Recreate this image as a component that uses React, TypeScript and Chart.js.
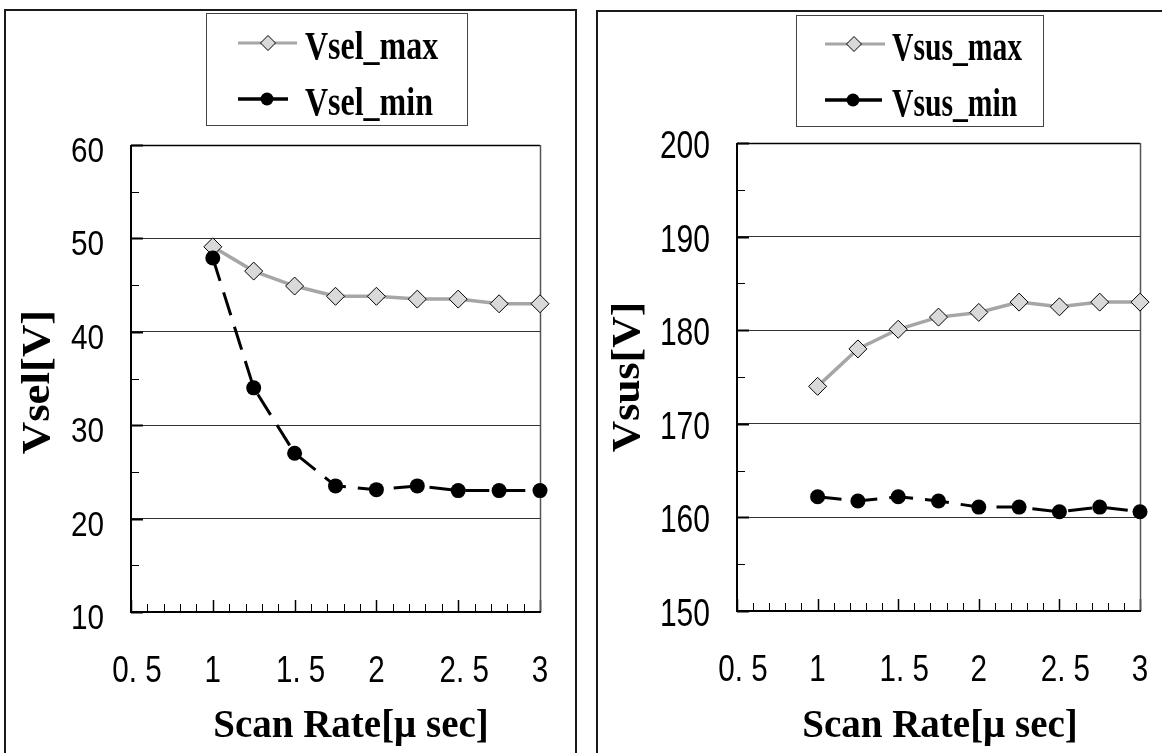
import React, { useEffect, useRef } from "react";
import { Chart, registerables } from "chart.js";

Chart.register(...registerables);

// ---------- data ----------
const scanRate = [1, 1.25, 1.5, 1.75, 2, 2.25, 2.5, 2.75, 3];
const vselMax = [49.1, 46.5, 44.9, 43.8, 43.8, 43.5, 43.5, 43.0, 43.0];
const vselMin = [47.9, 34.0, 27.0, 23.5, 23.1, 23.5, 23.0, 23.0, 23.0];
const vsusMax = [174.0, 178.0, 180.1, 181.4, 181.9, 183.0, 182.5, 183.0, 183.0];
const vsusMin = [162.2, 161.75, 162.2, 161.75, 161.1, 161.1, 160.6, 161.1, 160.6];

const xTickValues = [0.5, 1, 1.5, 2, 2.5, 3];
const xTickLabels = ["0. 5", "1", "1. 5", "2", "2. 5", "3"];
const vselTicks = [10, 20, 30, 40, 50, 60];
const vsusTicks = [150, 160, 170, 180, 190, 200];
const xTitle = "Scan Rate[μ sec]";

const SERIF = "'Liberation Serif', 'Times New Roman', serif";
const SANS = "'Liberation Sans', Arial, sans-serif";

type Row = { y: number; l1: number; l2: number; m: number; tx: number; base: number };
type Cfg = {
  frame: { left: number; top: number; width: number; height: number };
  canvas: { left: number; top: number; width: number; height: number };
  area: { left: number; right: number; top: number; bottom: number };
  yMin: number;
  yMax: number;
  yTicks: number[];
  yMinorStep: number;
  yLabelSize: number;
  yLabelScale: number;
  yLabelDrop: number;
  xLabelSize: number;
  xLabelScale: number;
  xLabelDrop: number;
  maxLabel: string;
  minLabel: string;
  maxData: number[];
  minData: number[];
  yTitle: string;
  yTitleX: number;
  yTitleY: number;
  yTitleScale: number;
  xTitleX: number;
  xTitleY: number;
  legendBox: number[];
  legendRows: Row[];
  legendScale: number;
};

const panels: Cfg[] = [
  {
    frame: { left: 4, top: 9, width: 573, height: 800 },
    canvas: { left: 6, top: 11, width: 569, height: 742 },
    area: { left: 131, right: 540, top: 145, bottom: 612 },
    yMin: 10,
    yMax: 60,
    yTicks: vselTicks,
    yMinorStep: 5,
    yLabelSize: 35,
    yLabelScale: 0.85,
    yLabelDrop: 17,
    xLabelSize: 37,
    xLabelScale: 0.8,
    xLabelDrop: 70,
    maxLabel: "Vsel_max",
    minLabel: "Vsel_min",
    maxData: vselMax,
    minData: vselMin,
    yTitle: "Vsel[V]",
    yTitleX: 49,
    yTitleY: 382,
    yTitleScale: 1.15,
    xTitleX: 351,
    xTitleY: 737,
    legendBox: [206, 13, 467, 125],
    legendRows: [
      { y: 43, l1: 238, l2: 297, m: 268, tx: 305, base: 59 },
      { y: 99, l1: 238, l2: 288, m: 267, tx: 305, base: 115 },
    ],
    legendScale: 0.82,
  },
  {
    frame: { left: 596, top: 10, width: 600, height: 800 },
    canvas: { left: 598, top: 12, width: 564, height: 741 },
    area: { left: 737, right: 1140, top: 143, bottom: 611 },
    yMin: 150,
    yMax: 200,
    yTicks: vsusTicks,
    yMinorStep: 5,
    yLabelSize: 39,
    yLabelScale: 0.77,
    yLabelDrop: 15,
    xLabelSize: 37,
    xLabelScale: 0.8,
    xLabelDrop: 70,
    maxLabel: "Vsus_max",
    minLabel: "Vsus_min",
    maxData: vsusMax,
    minData: vsusMin,
    yTitle: "Vsus[V]",
    yTitleX: 639,
    yTitleY: 377,
    yTitleScale: 1.12,
    xTitleX: 940,
    xTitleY: 737,
    legendBox: [796, 15, 1043, 126],
    legendRows: [
      { y: 44, l1: 825, l2: 885, m: 854, tx: 892, base: 60 },
      { y: 100, l1: 825, l2: 882, m: 853, tx: 892, base: 116 },
    ],
    legendScale: 0.76,
  },
];

function diamond(ctx: CanvasRenderingContext2D, cx: number, cy: number, r: number) {
  ctx.beginPath();
  ctx.moveTo(cx, cy - r);
  ctx.lineTo(cx + r, cy);
  ctx.lineTo(cx, cy + r);
  ctx.lineTo(cx - r, cy);
  ctx.closePath();
  ctx.fillStyle = "#d9d9d9";
  ctx.fill();
  ctx.lineWidth = 1;
  ctx.strokeStyle = "#000";
  ctx.stroke();
}

function seg(ctx: CanvasRenderingContext2D, x1: number, y1: number, x2: number, y2: number) {
  ctx.beginPath();
  ctx.moveTo(x1, y1);
  ctx.lineTo(x2, y2);
  ctx.stroke();
}

function squishText(
  ctx: CanvasRenderingContext2D,
  text: string,
  x: number,
  y: number,
  sx: number,
  align: CanvasTextAlign
) {
  ctx.save();
  ctx.translate(x, y);
  ctx.scale(sx, 1);
  ctx.textAlign = align;
  ctx.textBaseline = "alphabetic";
  ctx.fillText(text, 0, 0);
  ctx.restore();
}

const framePlugin = {
  id: "frame",
  beforeDatasetsDraw(chart: any, _args: any, opts: any) {
    const cfg: Cfg = opts.cfg;
    if (!cfg) return;
    const ctx: CanvasRenderingContext2D = chart.ctx;
    const { left, right, top, bottom } = chart.chartArea;
    const xs = chart.scales.x;
    const ys = chart.scales.y;
    ctx.save();
    // inward x ticks (major every 0.5, minor every 0.1)
    ctx.strokeStyle = "#000";
    for (let i = 5; i <= 30; i++) {
      const px = Math.round(xs.getPixelForValue(i / 10)) + 0.5;
      const major = i % 5 === 0;
      ctx.lineWidth = major ? 1.5 : 1;
      seg(ctx, px, bottom, px, bottom - (major ? 12 : 8));
    }
    // inward y ticks
    for (const v of cfg.yTicks) {
      const py = Math.round(ys.getPixelForValue(v)) + 0.5;
      ctx.lineWidth = 2;
      seg(ctx, left, py, left + 12, py);
      const mv = v + cfg.yMinorStep;
      if (mv < cfg.yMax) {
        const pm = Math.round(ys.getPixelForValue(mv)) + 0.5;
        ctx.lineWidth = 1;
        seg(ctx, left, pm, left + 8, pm);
      }
    }
    // frame
    ctx.lineWidth = 1.5;
    ctx.strokeStyle = "#000";
    seg(ctx, left, top + 0.5, right, top + 0.5);
    ctx.strokeStyle = "#555";
    seg(ctx, right + 0.5, top, right + 0.5, bottom);
    ctx.strokeStyle = "#000";
    ctx.lineWidth = 2;
    seg(ctx, left - 1, bottom, right + 1, bottom);
    seg(ctx, left, top, left, bottom + 1);
    ctx.restore();
  },
  afterDraw(chart: any, _args: any, opts: any) {
    const cfg: Cfg = opts.cfg;
    if (!cfg) return;
    const ctx: CanvasRenderingContext2D = chart.ctx;
    const ox = cfg.canvas.left;
    const oy = cfg.canvas.top;
    const xs = chart.scales.x;
    const ys = chart.scales.y;
    const { left, bottom } = chart.chartArea;
    ctx.save();
    ctx.fillStyle = "#000";
    // tick labels from the scales' own ticks
    ctx.font = `${cfg.yLabelSize}px ${SANS}`;
    for (const t of ys.ticks) {
      const py = ys.getPixelForValue(t.value);
      squishText(ctx, String(t.label), left - 27, py + cfg.yLabelDrop, cfg.yLabelScale, "right");
    }
    ctx.font = `${cfg.xLabelSize}px ${SANS}`;
    for (const t of xs.ticks) {
      const px = xs.getPixelForValue(t.value);
      const lab = String(t.label);
      const shift = lab.indexOf(".") >= 0 ? 6 : 0;
      squishText(ctx, lab, px + shift, bottom + cfg.xLabelDrop, cfg.xLabelScale, "center");
    }
    // legend box
    const [bx1, by1, bx2, by2] = cfg.legendBox;
    ctx.fillStyle = "#fff";
    ctx.fillRect(bx1 - ox, by1 - oy, bx2 - bx1, by2 - by1);
    ctx.strokeStyle = "#444";
    ctx.lineWidth = 1;
    ctx.strokeRect(bx1 - ox + 0.5, by1 - oy + 0.5, bx2 - bx1, by2 - by1);
    const ds = chart.data.datasets;
    cfg.legendRows.forEach((r, i) => {
      const y = r.y - oy;
      if (i === 0) {
        ctx.strokeStyle = "#a6a6a6";
        ctx.lineWidth = 3;
        seg(ctx, r.l1 - ox, y, r.l2 - ox, y);
        diamond(ctx, r.m - ox, y, 7.5);
      } else {
        ctx.strokeStyle = "#000";
        ctx.lineWidth = 3.5;
        seg(ctx, r.l1 - ox, y, r.l2 - ox, y);
        ctx.beginPath();
        ctx.arc(r.m - ox, y, 6.5, 0, Math.PI * 2);
        ctx.fillStyle = "#000";
        ctx.fill();
      }
      ctx.fillStyle = "#000";
      ctx.font = `bold 39px ${SERIF}`;
      squishText(ctx, ds[i].label, r.tx - ox, r.base - oy, cfg.legendScale, "left");
    });
    // axis titles
    ctx.fillStyle = "#000";
    ctx.font = `bold 39px ${SERIF}`;
    ctx.textAlign = "center";
    ctx.textBaseline = "alphabetic";
    ctx.fillText(xTitle, cfg.xTitleX - ox, cfg.xTitleY - oy);
    ctx.save();
    ctx.translate(cfg.yTitleX - ox, cfg.yTitleY - oy);
    ctx.rotate(-Math.PI / 2);
    ctx.scale(cfg.yTitleScale, 1);
    ctx.fillText(cfg.yTitle, 0, 0);
    ctx.restore();
    ctx.restore();
  },
};

function Panel({ cfg }: { cfg: Cfg }) {
  const ref = useRef<HTMLCanvasElement | null>(null);
  useEffect(() => {
    if (!ref.current) return;
    const W = cfg.canvas.width;
    const H = cfg.canvas.height;
    const ca = {
      left: cfg.area.left - cfg.canvas.left,
      right: cfg.area.right - cfg.canvas.left,
      top: cfg.area.top - cfg.canvas.top,
      bottom: cfg.area.bottom - cfg.canvas.top,
    };
    const chart = new Chart(ref.current, {
      type: "line",
      data: {
        datasets: [
          {
            label: cfg.maxLabel,
            data: scanRate.map((x, i) => ({ x, y: cfg.maxData[i] })),
            borderColor: "#a6a6a6",
            borderWidth: 3.5,
            pointStyle: "rectRot",
            pointRadius: 9,
            pointBackgroundColor: "#d9d9d9",
            pointBorderColor: "#000",
            pointBorderWidth: 1,
            tension: 0,
            clip: false,
            order: 1,
          },
          {
            label: cfg.minLabel,
            data: scanRate.map((x, i) => ({ x, y: cfg.minData[i] })),
            borderColor: "#000",
            borderWidth: 3,
            borderDash: [24, 12],
            pointStyle: "circle",
            pointRadius: 7.5,
            pointBackgroundColor: "#000",
            pointBorderColor: "#000",
            pointBorderWidth: 0,
            tension: 0,
            clip: false,
            order: 0,
          },
        ] as any,
      },
      options: {
        responsive: false,
        maintainAspectRatio: false,
        animation: false,
        devicePixelRatio: 1,
        layout: { padding: { top: ca.top, right: W - ca.right, left: 0, bottom: 0 } },
        plugins: {
          legend: { display: false },
          tooltip: { enabled: false },
          frame: { cfg },
        } as any,
        scales: {
          x: {
            type: "linear",
            min: 0.5,
            max: 3,
            afterBuildTicks: (s: any) => {
              s.ticks = xTickValues.map((v) => ({ value: v }));
            },
            afterFit: (s: any) => {
              s.height = H - ca.bottom;
            },
            grid: { display: false },
            border: { display: false },
            ticks: {
              display: false,
              autoSkip: false,
              callback: (v: any) => xTickLabels[xTickValues.indexOf(Number(v))] ?? "",
            },
          },
          y: {
            type: "linear",
            min: cfg.yMin,
            max: cfg.yMax,
            afterBuildTicks: (s: any) => {
              s.ticks = cfg.yTicks.map((v) => ({ value: v }));
            },
            afterFit: (s: any) => {
              s.width = ca.left;
            },
            grid: { color: "#333", lineWidth: 1, drawTicks: false },
            border: { display: false },
            ticks: {
              display: false,
              autoSkip: false,
              callback: (v: any) => String(v),
            },
          },
        } as any,
      },
      plugins: [framePlugin as any],
    });
    return () => chart.destroy();
  }, [cfg]);
  return (
    <>
      <div
        style={{
          position: "absolute",
          left: cfg.frame.left,
          top: cfg.frame.top,
          width: cfg.frame.width,
          height: cfg.frame.height,
          border: "2px solid #1a1a1a",
          boxSizing: "border-box",
        }}
      />
      <canvas
        ref={ref}
        width={cfg.canvas.width}
        height={cfg.canvas.height}
        style={{
          position: "absolute",
          left: cfg.canvas.left,
          top: cfg.canvas.top,
          width: cfg.canvas.width,
          height: cfg.canvas.height,
        }}
      />
    </>
  );
}

export default function App() {
  return (
    <div
      style={{
        position: "absolute",
        left: 0,
        top: 0,
        width: 1162,
        height: 753,
        overflow: "hidden",
        background: "#fff",
      }}
    >
      {panels.map((p, i) => (
        <Panel key={i} cfg={p} />
      ))}
    </div>
  );
}
